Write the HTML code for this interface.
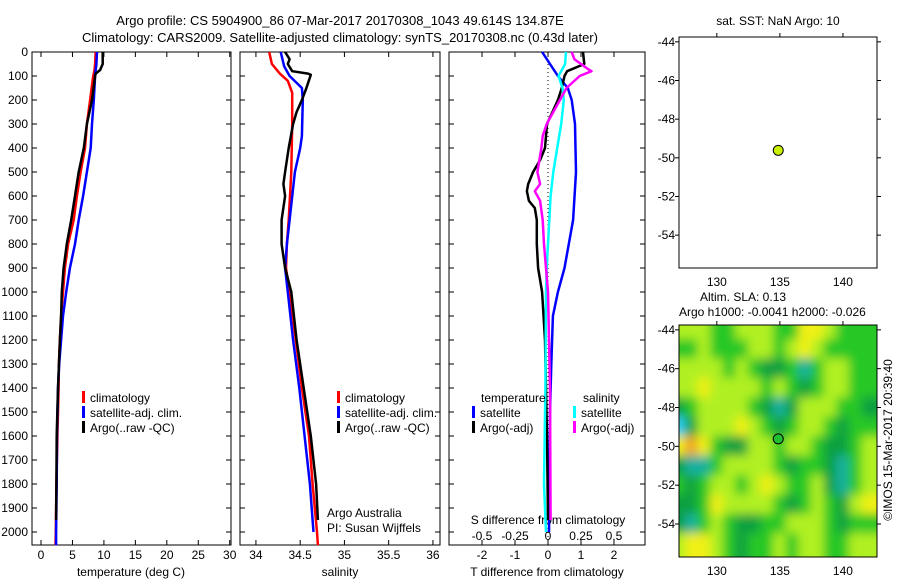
<!DOCTYPE html>
<html><head><meta charset="utf-8"><style>
html,body{margin:0;padding:0;background:#fff}
svg{display:block;font-family:"Liberation Sans",sans-serif;font-size:12px}
</style></head><body>
<svg id="s" width="900" height="580" viewBox="0 0 900 580">
<defs>
<filter id="blur" x="-10%" y="-10%" width="120%" height="120%"><feGaussianBlur stdDeviation="5"/></filter>
<clipPath id="mclip"><rect x="679" y="325" width="198" height="232"/></clipPath>
</defs>
<g id="titles">
<text x="340" y="25" text-anchor="middle" font-size="13">Argo profile: CS 5904900_86 07-Mar-2017 20170308_1043 49.614S 134.87E</text>
<text x="340" y="42" text-anchor="middle" font-size="13">Climatology: CARS2009. Satellite-adjusted climatology: synTS_20170308.nc (0.43d later)</text>
</g>
</svg>
<script>
const depthsT=[0,50,75,90,100,200,300,400,500,600,700,800,900,1000,1100,1200,1300,1400,1600,1800,2000,2055];
const tempClim=[8.7,8.6,8.5,8.4,8.3,7.8,7.3,7.0,6.3,5.7,5.2,4.3,3.8,3.5,3.2,3.0,2.85,2.8,2.6,2.45,2.35,2.3];
const tempSat=[8.9,8.8,8.7,8.6,8.6,8.4,8.1,7.9,7.3,6.7,6.0,5.4,4.6,4.0,3.5,3.2,2.9,2.7,2.55,2.5,2.4,2.4];
const depthsArgoT=[0,50,75,90,100,200,300,400,500,600,700,800,900,1000,1100,1200,1400,1600,1800,1950];
const tempArgo=[9.8,9.8,9.4,8.7,8.6,8.1,7.3,6.8,6.0,5.4,4.8,4.1,3.6,3.3,3.2,3.0,2.7,2.5,2.45,2.4];
const depthsS=[0,50,90,120,170,300,500,700,800,900,1000,1200,1400,1600,1800,2000,2055];
const salClim=[34.15,34.18,34.27,34.36,34.41,34.41,34.40,34.37,34.35,34.34,34.38,34.45,34.52,34.60,34.64,34.69,34.70];
const depthsSatS=[0,60,100,150,200,350,400,500,700,800,900,1000,1200,1400,1600,1800,2000];
const salSat=[34.28,34.32,34.38,34.52,34.53,34.52,34.50,34.44,34.38,34.35,34.33,34.36,34.42,34.49,34.55,34.61,34.65];
const depthsArgoS=[0,30,50,80,90,95,150,200,250,300,400,500,550,600,700,800,900,1000,1200,1400,1600,1800,1950];
const salArgo=[34.33,34.38,34.36,34.41,34.59,34.62,34.57,34.52,34.46,34.42,34.37,34.33,34.31,34.33,34.29,34.29,34.33,34.40,34.46,34.54,34.62,34.68,34.70];
const depthsDT=[0,50,100,150,200,300,500,700,900,1000,1100,1300,1500,2000];
const dTsat=[-0.18,0.06,0.3,0.6,0.72,0.82,0.85,0.76,0.5,0.3,0.15,0.1,0.06,0.03];
const depthsDTA=[0,50,80,100,150,200,300,400,450,500,550,580,620,650,700,800,900,1000,1200,1600,1950];
const dTargo=[1.06,1.1,0.58,0.5,0.42,0.3,-0.03,-0.09,-0.24,-0.45,-0.6,-0.64,-0.58,-0.4,-0.34,-0.34,-0.3,-0.18,-0.09,-0.03,0];
const depthsDS=[0,50,100,150,200,300,400,500,600,700,900,1000,1400,1800,2000];
const dSsat=[0.136,0.13,0.08,0.11,0.12,0.1,0.07,0.04,0.02,0.01,-0.01,-0.015,-0.02,-0.03,-0.015];
const depthsDSA=[0,30,70,80,100,150,200,300,350,400,500,550,580,620,700,800,900,1000,1400,1950];
const dSargo=[0.18,0.2,0.3,0.33,0.24,0.14,0.09,-0.01,-0.04,-0.05,-0.08,-0.06,-0.1,-0.06,-0.04,-0.03,-0.015,0,0.015,0.02];
const depthTicks=[0,100,200,300,400,500,600,700,800,900,1000,1100,1200,1300,1400,1500,1600,1700,1800,1900,2000];
const tTicks=[0,5,10,15,20,25,30];
const sTicks=[34,34.5,35,35.5,36];
const sTickLabels=["34","34.5","35","35.5","36"];
const dTTicks=[-2,-1,0,1,2];
const dSTicks=[-0.5,-0.25,0,0.25,0.5];
const lonTicks=[130,135,140];
const latTicks=[-44,-46,-48,-50,-52,-54];
const argoLon=134.87, argoLat=-49.614;
const slaLats=[-44,-45,-46,-47,-48,-49,-50,-51,-52,-53,-54,-55];
const slaLons=[127,128,129,130,131,132,133,134,135,136,137,138,139,140,141,142];
const slaGrid=[
[4,4,4,3,3,4,4,4,3,3,5,5,4,3,3,3],
[3,3,4,3,3,3,4,4,3,4,5,4,3,3,3,3],
[4,4,4,4,3,4,3,2,2,3,1,3,4,4,3,3],
[4,4,5,4,4,4,4,3,4,3,2,3,4,4,3,3],
[2,3,4,4,4,4,3,2,1,2,4,4,4,3,3,2],
[0,2,4,4,4,5,4,3,2,3,4,4,3,2,3,3],
[5,6,5,3,2,2,4,4,3,4,4,3,2,2,3,4],
[2,1,1,3,4,4,4,4,3,2,3,3,2,1,3,4],
[3,2,3,4,4,3,4,5,4,3,3,4,2,1,3,4],
[2,2,3,5,4,4,4,4,3,2,3,4,3,2,4,5],
[2,1,3,4,3,2,2,3,3,4,4,4,3,2,3,3],
[4,5,5,4,3,2,3,3,4,3,4,4,3,3,4,4]];
const slaColors=["#30d0f8","#18b0a0","#10a040","#28c828","#b0f020","#f0f018","#f0a020"];

const svg=document.getElementById('s');
const NS='http://www.w3.org/2000/svg';
function el(tag,attrs,parent,text){const e=document.createElementNS(NS,tag);for(const k in attrs)e.setAttribute(k,attrs[k]);if(text!==undefined)e.textContent=text;(parent||svg).appendChild(e);return e;}
const PT=52,PB=545;
const yD=d=>PT+d*0.24;

function panel(name,x0,x1,xmin,xmax){
  const g=el('g',{},svg);
  
  
  const sx=v=>x0+(v-xmin)/(xmax-xmin)*(x1-x0);
  el('rect',{x:x0,y:PT,width:x1-x0,height:PB-PT,fill:'none',stroke:'#000','stroke-width':1},g);
  return {g,sx};
}
function drawLine(g,sx,ds,vs,color,w,name){
  let p='';ds.forEach((d,i)=>{p+=(i?'L':'M')+sx(vs[i]).toFixed(1)+','+yD(d).toFixed(1);});
  const e=el('path',{d:p,fill:'none',stroke:color,'stroke-width':w,'stroke-linejoin':'round'},g);
  
  
}
function xticks(g,sx,ticks,labels,y){
  ticks.forEach((t,i)=>{const x=sx(t);
    el('line',{x1:x,x2:x,y1:PB,y2:PB-5,stroke:'#000'},g);
    el('line',{x1:x,x2:x,y1:PT,y2:PT+5,stroke:'#000'},g);
    const tx=el('text',{x:x,y:y,'text-anchor':'middle'},g,labels?labels[i]:String(t));
    
    
  });
}
function legend(g,x,y,items){
  items.forEach((it,i)=>{
    el('rect',{x:x,y:y+i*15-9,width:3,height:12,fill:it[1]},g);
    const t=el('text',{x:x+8,y:y+i*15+2},g,it[0]);
    
    
  });
}
const ya=el('g',{},svg);


depthTicks.forEach(d=>{el('text',{x:28,y:yD(d)+4,'text-anchor':'end'},ya,String(d));});

const p1=panel('temperature-panel',32,231,-1.43,30.2);
depthTicks.forEach(d=>{[32,231].forEach((x,k)=>el('line',{x1:x,x2:x+(k?-5:5),y1:yD(d),y2:yD(d),stroke:'#000'},p1.g));});
xticks(p1.g,p1.sx,tTicks,null,559);
el('text',{x:131,y:576,'text-anchor':'middle'},p1.g,'temperature (deg C)');
drawLine(p1.g,p1.sx,depthsT,tempClim,'#f00',2.5,'temp-climatology-line');
drawLine(p1.g,p1.sx,depthsT,tempSat,'#00f',2.5,'temp-satellite-line');
drawLine(p1.g,p1.sx,depthsArgoT,tempArgo,'#000',2.5,'temp-argo-line');
legend(p1.g,82,400,[['climatology','#f00'],['satellite-adj. clim.','#00f'],['Argo(..raw -QC)','#000']]);

const p2=panel('salinity-panel',240,440,33.82,36.08);
depthTicks.forEach(d=>{[240,440].forEach((x,k)=>el('line',{x1:x,x2:x+(k?-5:5),y1:yD(d),y2:yD(d),stroke:'#000'},p2.g));});
xticks(p2.g,p2.sx,sTicks,sTickLabels,559);
el('text',{x:340,y:576,'text-anchor':'middle'},p2.g,'salinity');
drawLine(p2.g,p2.sx,depthsS,salClim,'#f00',2.5,'sal-climatology-line');
drawLine(p2.g,p2.sx,depthsSatS,salSat,'#00f',2.5,'sal-satellite-line');
drawLine(p2.g,p2.sx,depthsArgoS,salArgo,'#000',2.5,'sal-argo-line');
legend(p2.g,337,400,[['climatology','#f00'],['satellite-adj. clim.','#00f'],['Argo(..raw -QC)','#000']]);
el('text',{x:327,y:517},p2.g,'Argo Australia');
el('text',{x:327,y:532},p2.g,'PI: Susan Wijffels');

const p3=panel('difference-panel',449,645,-3,2.94);
const sxS=v=>p3.sx(v*4);
depthTicks.forEach(d=>{[449,645].forEach((x,k)=>el('line',{x1:x,x2:x+(k?-5:5),y1:yD(d),y2:yD(d),stroke:'#000'},p3.g));});
xticks(p3.g,p3.sx,dTTicks,null,559);
dSTicks.forEach(t=>{el('text',{x:sxS(t),y:540,'text-anchor':'middle'},p3.g,String(t));});
el('text',{x:548,y:524,'text-anchor':'middle'},p3.g,'S difference from climatology');
el('text',{x:547,y:576,'text-anchor':'middle'},p3.g,'T difference from climatology');
el('line',{x1:p3.sx(0),x2:p3.sx(0),y1:PT,y2:PB,stroke:'#000','stroke-dasharray':'1,3'},p3.g);
drawLine(p3.g,p3.sx,depthsDT,dTsat,'#00f',2.5,'dT-satellite-line');
drawLine(p3.g,p3.sx,depthsDTA,dTargo,'#000',2.5,'dT-argo-line');
drawLine(p3.g,sxS,depthsDS,dSsat,'#0ff',2.5,'dS-satellite-line');
drawLine(p3.g,sxS,depthsDSA,dSargo,'#f0f',2.5,'dS-argo-line');
el('text',{x:481,y:402},p3.g,'temperature');
el('text',{x:583,y:402},p3.g,'salinity');
legend(p3.g,472,415,[['satellite','#00f'],['Argo(-adj)','#000']]);
legend(p3.g,573,415,[['satellite','#0ff'],['Argo(-adj)','#f0f']]);

function drawMap(name,y0,y1,heat){
  const g=el('g',{},svg);
  
  
  const x0=679,x1=877;
  const sx=v=>x0+(v-127)/(142.7-127)*(x1-x0);
  const sy=v=>y0+(-43.75-v)/(55.7-43.75)*(y1-y0);
  if(heat){
    const hg=el('g',{'clip-path':'url(#mclip)'},g);
    const bg=el('g',{filter:'url(#blur)'},hg);
    slaGrid.forEach((row,j)=>row.forEach((v,i)=>{
      const cx=sx(slaLons[i]),cy=sy(slaLats[j]);
      const w=sx(1)-sx(0)+1,h=sy(-44)-sy(-43)+1;
      const r=el('rect',{x:cx-w/2-(i==0?w:0),y:cy-h/2-(j==0?h:0),width:w*(i==0||i==15?2:1),height:h*(j==0||j==11?2:1),fill:slaColors[v]},bg);
      
      
    }));
  }
  el('rect',{x:x0,y:y0,width:x1-x0,height:y1-y0,fill:'none',stroke:'#000'},g);
  lonTicks.forEach(t=>{const x=sx(t);
    el('line',{x1:x,x2:x,y1:y0,y2:y0-4,stroke:'#000'},g);
    el('text',{x:x,y:y1+18,'text-anchor':'middle'},g,String(t));});
  latTicks.forEach(t=>{const y=sy(t);
    el('line',{x1:x0,x2:x0-4,y1:y,y2:y,stroke:'#000'},g);
    el('line',{x1:x1,x2:x1+4,y1:y,y2:y,stroke:'#000'},g);
    el('text',{x:x0-4,y:y+4,'text-anchor':'end'},g,String(t));});
  const c=el('circle',{cx:sx(argoLon),cy:sy(argoLat),r:5,fill:heat?'#20c030':'#c8f000',stroke:'#000','stroke-width':1},g);
  
  
}
drawMap('sst-map',37,268,false);
drawMap('sla-map',325,557,true);
el('text',{x:778,y:25,'text-anchor':'middle'},svg,'sat. SST: NaN Argo: 10');
el('text',{x:700,y:301},svg,'Altim. SLA: 0.13');
el('text',{x:679,y:316},svg,'Argo h1000: -0.0041 h2000: -0.026');
const cr=el('text',{x:0,y:0,'text-anchor':'middle',transform:'translate(892,440) rotate(-90)'},svg,'©IMOS 15-Mar-2017 20:39:40');


</script>
</body></html>
